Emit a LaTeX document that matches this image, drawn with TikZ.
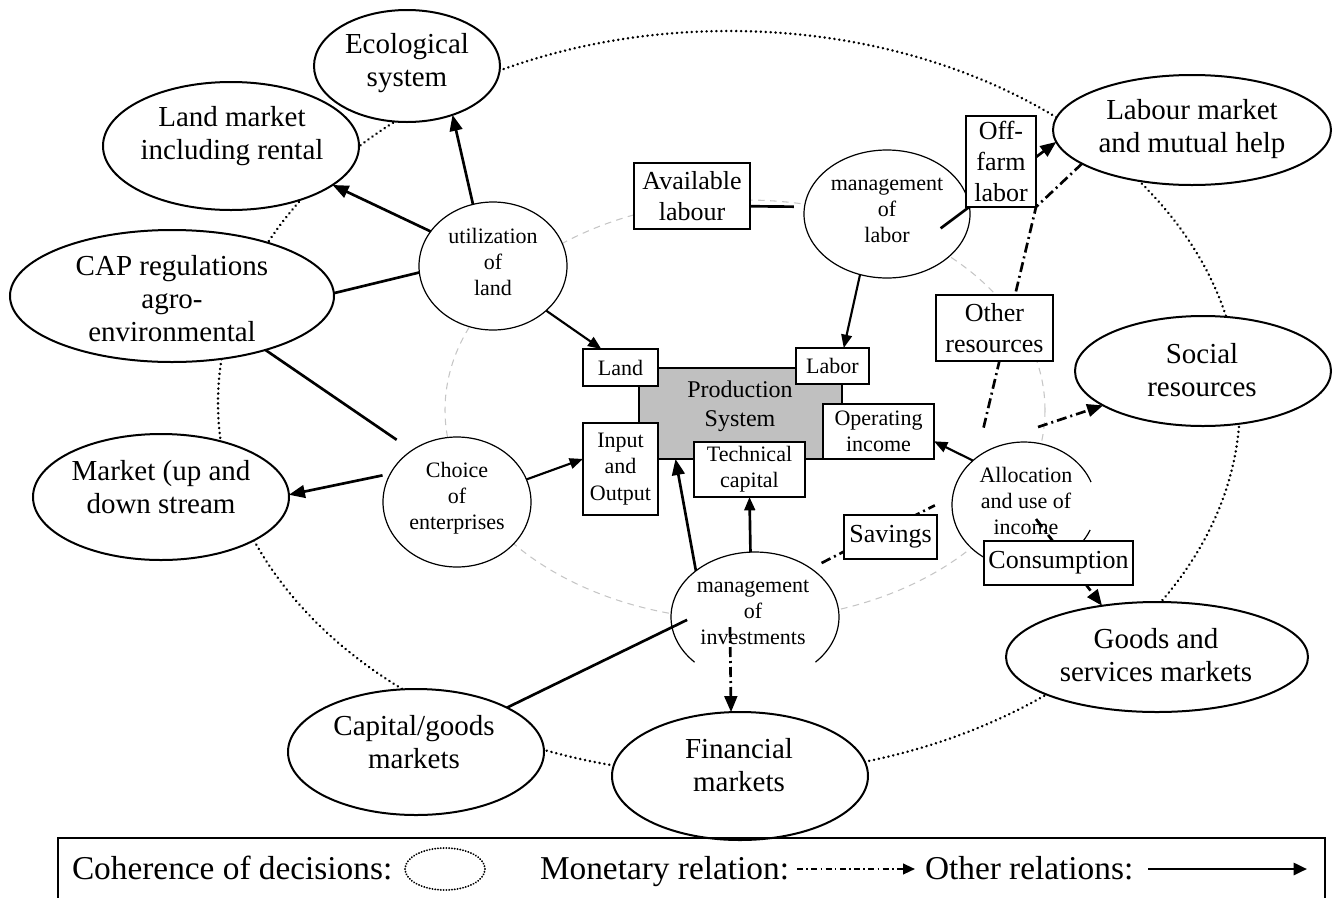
\documentclass[tikz,border=0pt]{standalone}
\usepackage{fontspec}
\setmainfont{Liberation Serif}
\usetikzlibrary{shapes.geometric,arrows.meta,calc}
\pgfdeclarelayer{back}
\pgfdeclarelayer{front}
\pgfsetlayers{back,main,front}

% font sizes (1 unit = 0.75pt)
\newcommand\ellfont{\fontsize{21.75}{24.75}\selectfont}
\newcommand\decfont{\fontsize{16.5}{19.5}\selectfont}
\newcommand\bboxfont{\fontsize{19.5}{23.25}\selectfont}
\newcommand\sboxfont{\fontsize{16.5}{19.8}\selectfont}
\newcommand\prodfont{\fontsize{18}{21.75}\selectfont}
\newcommand\legfont{\fontsize{25}{29}\selectfont}

\begin{document}
\begin{tikzpicture}[x=0.75pt,y=-0.75pt,
  every node/.style={inner sep=0pt,outer sep=0pt},
  outer/.style 2 args={ellipse,draw,line width=1.5pt,fill=white,
    minimum width=#1*1.5pt,minimum height=#2*1.5pt},
  dec/.style 2 args={ellipse,draw,line width=0.9pt,fill=white,
    minimum width=#1*1.5pt,minimum height=#2*1.5pt},
  decopen/.style 2 args={ellipse,fill=white,
    minimum width=#1*1.5pt,minimum height=#2*1.5pt},
  bigbox/.style 2 args={rectangle,draw,line width=1.5pt,fill=white,
    minimum width=#1*0.75pt,minimum height=#2*0.75pt,align=center,font=\bboxfont},
  smallbox/.style 2 args={rectangle,draw,line width=1.1pt,fill=white,
    minimum width=#1*0.75pt,minimum height=#2*0.75pt,align=center,font=\sboxfont},
  elltext/.style={align=center,font=\ellfont},
  dectext/.style={align=center,font=\decfont},
  coh/.style={line width=2pt,line cap=round,dash pattern=on 0.1pt off 3.6pt},
  guide/.style={gray!45,line width=0.8pt,dash pattern=on 5pt off 4pt},
  rel/.style={line width=2pt},
  relthin/.style={line width=1.6pt},
  monetary/.style={line width=2pt,dash pattern=on 7.5pt off 3pt on 1.5pt off 3pt},
  tip/.style={-{Triangle[length=12pt,width=9.5pt]}},
  stip/.style={-{Triangle[length=10pt,width=8pt]}},
  declinepath/.style={line width=0.9pt}
]
\useasboundingbox (0,0) rectangle (1336,897);

% ---- background rings ----
\begin{pgfonlayer}{back}
  \draw[coh] (729,403) ellipse [x radius=383.25pt, y radius=279pt];
  \draw[guide] (745,410) ellipse [x radius=225pt, y radius=157.5pt];
\end{pgfonlayer}

% ---- outer environment ----
\node[outer={93}{56}]   (eco)   at (407,66)  {};
\node[outer={128}{64}]  (landm) at (231,146) {};
\node[outer={162}{66}]  (cap)   at (172,296) {};
\node[outer={128}{63}]  (mkt)   at (161,497) {};
\node[outer={128}{63}]  (capg)  at (416,752) {};
\node[outer={128}{64}]  (fin)   at (740,776) {};
\node[outer={151}{55}]  (goods) at (1157,657) {};
\node[outer={128}{55}]  (soc)   at (1203,371) {};
\node[outer={139}{55}]  (labm)  at (1192,130) {};

\node[elltext] (eco-t)   at (407,63)  {Ecological\\system};
\node[elltext] (landm-t) at (232,136) {Land market\\including rental};
\begin{scope}
  \clip (0,220) rectangle (340,345);
  \node[elltext] (cap-t) at (172,299) {CAP regulations\\agro-\\environmental};
\end{scope}
\node[elltext] (mkt-t)   at (161,487) {Market (up and\\down stream};
\node[elltext] (capg-t)  at (414,742) {Capital/goods\\markets};
\node[elltext] (fin-t)   at (739,765) {Financial\\markets};
\node[elltext] (goods-t) at (1156,655) {Goods and\\services markets};
\node[elltext] (soc-t)   at (1202,370) {Social\\resources};
\node[elltext] (labm-t)  at (1192,129) {Labour market\\and mutual help};

% ---- decision centres ----
\node[dec={74}{64}] (util)   at (493,266) {};
\node[dec={83}{64}] (mlab)   at (887,214) {};
\node[dec={74}{65}] (choice) at (457,502) {};
\node[decopen={84}{65}] (inv)   at (755,617) {};
\node[decopen={72}{63}] (alloc) at (1024,505) {};
\draw[declinepath] plot[domain=136:404,samples=90,smooth]
  ({755+84*cos(\x)},{617+65*sin(\x)});
\draw[declinepath] plot[domain=23.4:338.6,samples=90,smooth]
  ({1024+72*cos(\x)},{505+63*sin(\x)});

\node[dectext] (util-t)   at (493,262)  {utilization\\of\\land};
\node[dectext] (mlab-t)   at (887,210)  {management\\of\\labor};
\node[dectext] (choice-t) at (457,498)  {Choice\\of\\enterprises};
\node[dectext] (inv-t)    at (753,612)  {management\\of\\investments};
\node[dectext] (alloc-t)  at (1026,501) {Allocation\\and use of\\income};

% ---- production system ----
\node[rectangle,draw,line width=1.1pt,fill={rgb,255:red,192;green,192;blue,192},
      minimum width=203*0.75pt,minimum height=91*0.75pt] (prod) at (740.5,413.5) {};
\node[align=center,font=\prodfont] (prod-t) at (740,406) {Production\\System};
\node[smallbox={75}{37}]  (land)  at (620.5,367.5) {Land};
\node[smallbox={73}{36}]  (labor) at (832.5,366)   {Labor};
\node[smallbox={75}{92}]  (inout) at (620.5,469)   {Input\\and\\Output};
\node[smallbox={111}{55}] (tech)  at (749.5,469.5) {Technical\\capital};
\node[smallbox={111}{55}] (opinc) at (878.5,431.5) {Operating\\income};
\node[bigbox={116}{66}]   (avail) at (692,196)     {Available\\labour};

% ---- boxes lying over their connectors ----
\begin{pgfonlayer}{front}
  \node[bigbox={70}{91}]   (offf)  at (1001,161.5) {Off-\\farm\\labor};
  \node[bigbox={117}{66}]  (other) at (994.5,328)  {Other\\resources};
  \node[bigbox={93}{44}]   (sav)   at (890.5,537)  {Savings};
  \node[bigbox={149}{44}]  (cons)  at (1058.5,563) {Consumption};
\end{pgfonlayer}

\coordinate (mrEnd)    at (983,430);
\coordinate (socStart) at (1038,427);

% ---- other relations ----
\draw[rel,tip] (util.108) -- (eco.-47.5);
\draw[rel,tip] (util.151.4) -- (landm.-21.5);
\draw[rel] (cap.1) -- (util.185.5);
\draw[rel,shorten >=14pt] (cap.-30.5) -- (choice.131.3);
\draw[rel,tip,shorten <=6pt] (choice.157.8) -- (mkt.1.8);
\draw[relthin,stip] (choice.18.7) -- (inout.165);
\draw[relthin,stip] (util.-40.4) -- (land.136.4);
\draw[rel,shorten >=8pt] (avail.-10.7) -- (mlab.175.7);
\draw[relthin,stip] (mlab.246.8) -- (labor.58.8);
\draw[rel,tip,shorten <=-27pt] (mlab.5.5) -- (labm.185);
\draw[relthin,stip] (alloc.139) -- (opinc.-10.7);
\draw[rel,tip] (inv.142.4) -- (prod.215.6);
\draw[rel,stip] (inv.94) -- (tech.south);
\draw[rel,shorten <=-12.6pt] (inv.187.2) -- (capg.26.6);

% ---- monetary relations ----
\draw[monetary] (labm.197.5) -- (offf.south east) -- (mrEnd);
\draw[monetary,tip] (socStart) -- (soc.199.3);
\draw[monetary,shorten <=9pt,shorten >=15pt] (inv.41.4) -- (alloc.173.7);
\draw[monetary,tip] ($(inv.center)+(-25,10)$) -- (fin.98.9);
\draw[monetary,tip] ($(alloc.center)+(12,14)$) -- (goods.137.2);

% ---- legend ----
\draw[line width=1.5pt] (58,900) |- (1325,838) -- (1325,900);
\node[font=\legfont,anchor=base west] (lg1) at (72,879) {Coherence of decisions:};
\node[ellipse,draw,line width=1.5pt,line cap=round,dash pattern=on 0.1pt off 2pt,
      minimum width=80*0.75pt,minimum height=42*0.75pt] (lg2) at (445,869) {};
\node[font=\legfont,anchor=base west] (lg3) at (540,879) {Monetary relation:};
\coordinate (lm1) at (797,869);
\coordinate (lm2) at (915,869);
\draw[line width=1.6pt,dash pattern=on 4.5pt off 2.5pt on 1.2pt off 2.5pt,
      -{Triangle[length=9pt,width=8pt]}] (lm1) -- (lm2);
\node[font=\legfont,anchor=base west] (lg4) at (925,879) {Other relations:};
\coordinate (lo1) at (1148,869);
\coordinate (lo2) at (1307,869);
\draw[line width=2pt,-{Triangle[length=10pt,width=9pt]}] (lo1) -- (lo2);
\end{tikzpicture}
\end{document}
